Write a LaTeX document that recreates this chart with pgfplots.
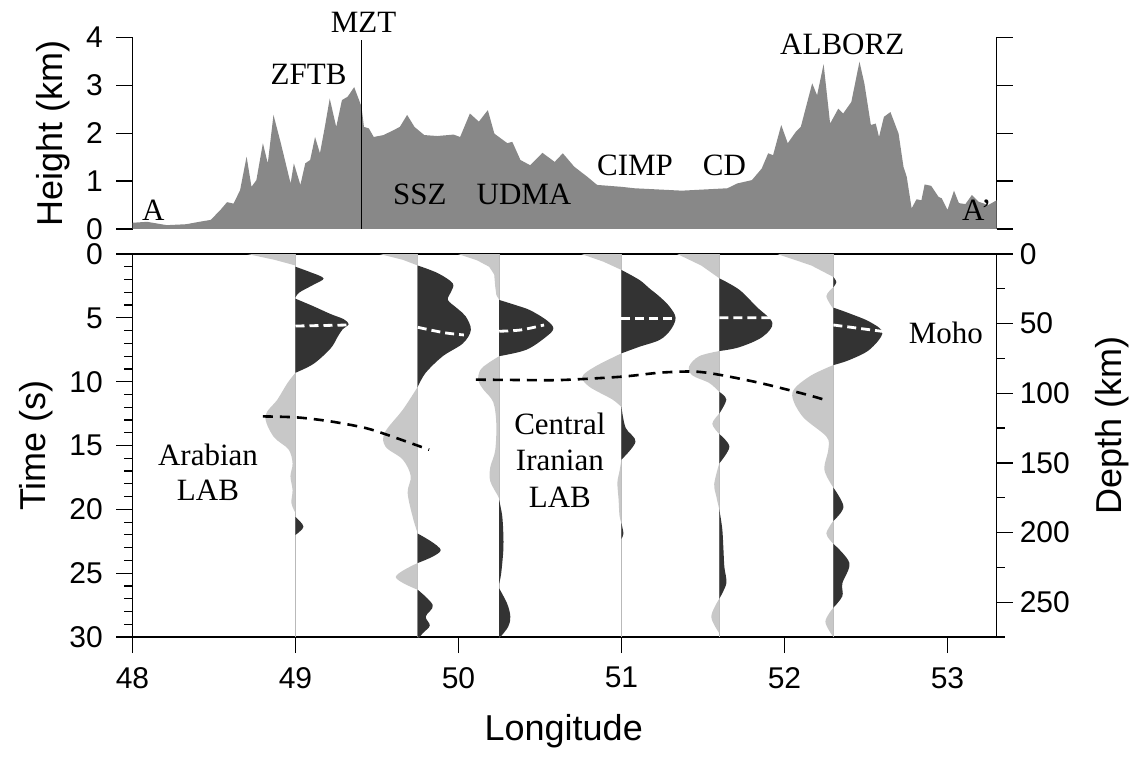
\documentclass[border=0pt]{standalone}
\usepackage{fontspec}
\setmainfont{Liberation Serif}
\newfontfamily\sansf{Liberation Sans}
\usepackage{pgfplots}
\pgfplotsset{compat=1.18}
\definecolor{topo}{RGB}{136,136,136}
\definecolor{posc}{RGB}{51,51,51}
\definecolor{negc}{RGB}{200,200,200}
\definecolor{basec}{RGB}{185,185,185}
\newcommand{\annfont}{\fontsize{15.5}{17.5}\selectfont}
\begin{document}
\begin{tikzpicture}
\path[use as bounding box] (-66.25pt,-59.5pt) rectangle (502.75pt,318.5pt);
\pgfplotsset{
  common/.style={scale only axis, width=432.1pt, xmin=48, xmax=53.302,
    tick align=outside, major tick length=8pt, minor tick length=4pt,
    every tick/.style={black, line width=0.6pt},
    axis line style={line width=0.6pt},
    tick label style={font=\sansf\fontsize{15}{18}\selectfont},
    label style={font=\sansf\fontsize{18}{21}\selectfont},
    /pgf/number format/assume math mode=true,
    clip mode=individual},
  pos/.style={fill=posc, draw=none, smooth, tension=0.55},
  neg/.style={fill=negc, draw=none, smooth, tension=0.55},
  wedge/.style={fill=negc, draw=none},
  baseline/.style={basec, line width=0.5pt},
  moho/.style={white, line width=1.4pt, dash pattern=on 4.5pt off 2.5pt},
  lab/.style={black, line width=1.3pt, dash pattern=on 5pt off 3.5pt, smooth},
}
% ================= bottom panel (time) =================
\begin{axis}[common, at={(0,0)}, anchor=south west, height=191.5pt,
  ymin=0, ymax=30, y dir=reverse, tick pos=left,
  xtick={48,...,53}, ytick={0,5,...,30}, minor ytick={1,...,29},
  xticklabel style={yshift=-3.5pt}, yticklabel style={xshift=-3.3pt},
  xlabel={Longitude}, ylabel={Time (s)},
  xlabel style={at={(axis description cs:0.499,-0.245)}, anchor=center},
  ylabel style={at={(axis description cs:-0.1111,0.5)}, anchor=center}]
% baselines
\addplot[baseline] coordinates {(49,0) (49,30)};
\addplot[baseline] coordinates {(49.75,0) (49.75,30)};
\addplot[baseline] coordinates {(50.25,0) (50.25,30)};
\addplot[baseline] coordinates {(51,0) (51,30)};
\addplot[baseline] coordinates {(51.6,0) (51.6,30)};
\addplot[baseline] coordinates {(52.3,0) (52.3,30)};
% ---- trace 1 (49.0)
\addplot[wedge] coordinates {(49,0) (48.705,0) (48.87,0.45) (49,0.9)} -- cycle;
\addplot[pos] coordinates {(49,1.0) (49.086,1.4) (49.172,1.9) (49.111,2.4) (49.025,3.0) (49,3.4)} -- cycle;
\addplot[pos] coordinates {(49,3.5) (49.111,4.1) (49.215,4.7) (49.295,5.1) (49.326,5.5) (49.289,5.9) (49.258,6.5) (49.215,7.4) (49.111,8.6) (49,9.3)} -- cycle;
\addplot[neg] coordinates {(49,9.3) (48.951,10.1) (48.889,11.4) (48.815,12.7) (48.865,14.3) (48.957,15.3) (48.982,16.4) (48.969,17.4) (48.982,18.5) (48.975,19.5) (49,20.3)} -- cycle;
\addplot[pos] coordinates {(49,20.6) (49.049,21.35) (49,22.0)} -- cycle;
% ---- trace 2 (49.75)
\addplot[wedge] coordinates {(49.75,0) (49.516,0) (49.658,0.45) (49.75,0.9)} -- cycle;
\addplot[pos] coordinates {(49.75,0.9) (49.873,1.5) (49.965,2.3) (49.953,3.0) (49.935,3.6) (49.996,4.3) (50.045,4.9) (50.076,5.95) (50.027,7.0) (49.904,8.0) (49.799,9.3) (49.75,10.4)} -- cycle;
\addplot[neg] coordinates {(49.75,10.4) (49.658,12.2) (49.547,14.0) (49.553,15.1) (49.658,16.1) (49.707,17.4) (49.688,18.7) (49.719,20.6) (49.75,21.9)} -- cycle;
\addplot[pos] coordinates {(49.75,21.9) (49.891,23.2) (49.75,24.2)} -- cycle;
\addplot[neg] coordinates {(49.75,24.2) (49.615,25.3) (49.75,26.3)} -- cycle;
\addplot[pos] coordinates {(49.75,26.3) (49.842,27.5) (49.799,28.4) (49.824,29.1) (49.781,29.7) (49.75,30.2)} -- cycle;
% ---- trace 3 (50.25)
\addplot[wedge] coordinates {(50.25,0) (49.998,0) (50.115,0.5) (50.188,1.0) (50.219,1.6) (50.225,2.5) (50.232,3.2) (50.25,3.6)} -- cycle;
\addplot[pos] coordinates {(50.25,3.6) (50.350,4.0) (50.439,4.4) (50.539,5.17) (50.582,5.82) (50.539,6.47) (50.416,7.5) (50.25,8.0)} -- cycle;
\addplot[neg] coordinates {(50.25,8.0) (50.176,8.6) (50.133,9.1) (50.121,9.9) (50.152,10.6) (50.213,11.6) (50.232,13.3) (50.225,15.4) (50.195,16.7) (50.195,17.8) (50.244,19.0) (50.25,19.3)} -- cycle;
\addplot[pos] coordinates {(50.25,19.3) (50.268,20.5) (50.275,21.9) (50.275,23.2) (50.262,25.0) (50.25,25.8)} -- cycle;
\addplot[pos] coordinates {(50.25,26.2) (50.299,27.4) (50.318,28.4) (50.305,29.2) (50.25,30.1)} -- cycle;
% ---- trace 4 (51.0)
\addplot[wedge] coordinates {(51,0) (50.754,0) (50.889,0.6) (51,1.25)} -- cycle;
\addplot[pos] coordinates {(51,1.25) (51.111,2.04) (51.172,2.7) (51.234,3.34) (51.295,4.12) (51.332,5.0) (51.301,5.95) (51.234,6.73) (51.111,7.26) (51,7.78)} -- cycle;
\addplot[neg] coordinates {(51,7.78) (50.84,8.8) (50.76,9.6) (50.803,10.4) (50.945,11.4) (51,12.0)} -- cycle;
\addplot[pos] coordinates {(51,12.0) (51.025,13.6) (51.086,14.7) (51,16.1)} -- cycle;
\addplot[neg] coordinates {(51,16.1) (50.988,17.0) (50.975,17.9) (50.982,19.2) (50.988,20.5) (51,21.1)} -- cycle;
\addplot[pos] coordinates {(51,21.1) (51.012,21.9) (51,22.3)} -- cycle;
% ---- trace 5 (51.6)
\addplot[wedge] coordinates {(51.6,0) (51.342,0) (51.489,0.9) (51.6,1.9)} -- cycle;
\addplot[pos] coordinates {(51.6,1.9) (51.723,2.8) (51.826,4.1) (51.926,5.4) (51.864,6.5) (51.723,7.3) (51.6,7.6)} -- cycle;
\addplot[neg] coordinates {(51.6,7.6) (51.477,8.0) (51.415,8.8) (51.434,9.5) (51.538,10.1) (51.6,10.8)} -- cycle;
\addplot[pos] coordinates {(51.6,10.8) (51.643,11.4) (51.6,12.5)} -- cycle;
\addplot[neg] coordinates {(51.6,12.5) (51.557,13.3) (51.6,14.1)} -- cycle;
\addplot[pos] coordinates {(51.6,14.1) (51.662,15.1) (51.6,16.4)} -- cycle;
\addplot[neg] coordinates {(51.6,16.4) (51.569,18.0) (51.582,19.0) (51.6,20.0)} -- cycle;
\addplot[pos] coordinates {(51.6,20.0) (51.618,21.5) (51.625,23.0) (51.631,24.5) (51.643,25.8) (51.6,27.0)} -- cycle;
\addplot[neg] coordinates {(51.6,27.0) (51.551,28.4) (51.6,29.7)} -- cycle;
% ---- trace 6 (52.3)
\addplot[wedge] coordinates {(52.3,0) (51.956,0) (52.165,0.9) (52.3,1.8)} -- cycle;
\addplot[pos] coordinates {(52.3,1.8) (52.318,2.2) (52.3,2.6)} -- cycle;
\addplot[neg] coordinates {(52.3,2.6) (52.257,3.3) (52.3,4.3)} -- cycle;
\addplot[pos] coordinates {(52.3,4.2) (52.398,4.65) (52.521,5.3) (52.601,6.16) (52.521,7.5) (52.398,8.3) (52.3,8.7)} -- cycle;
\addplot[neg] coordinates {(52.3,8.7) (52.152,9.6) (52.048,10.9) (52.109,12.7) (52.257,14.3) (52.269,15.3) (52.245,16.9) (52.3,18.3)} -- cycle;
\addplot[pos] coordinates {(52.3,18.3) (52.362,19.8) (52.3,20.9)} -- cycle;
\addplot[neg] coordinates {(52.3,20.9) (52.257,21.9) (52.3,22.7)} -- cycle;
\addplot[pos] coordinates {(52.3,22.7) (52.398,24.2) (52.355,25.8) (52.355,26.8) (52.3,27.7)} -- cycle;
\addplot[neg] coordinates {(52.3,27.7) (52.251,28.8) (52.3,30)} -- cycle;
% ---- Moho (white dashed)
\addplot[moho] coordinates {(49.0,5.64) (49.326,5.56)};
\addplot[moho, smooth] coordinates {(49.75,5.74) (49.91,6.16) (50.033,6.34)};
\addplot[moho, smooth] coordinates {(50.25,6.05) (50.382,5.95) (50.525,5.56)};
\addplot[moho] coordinates {(51.0,5.04) (51.33,5.04)};
\addplot[moho] coordinates {(51.6,4.99) (51.92,5.0)};
\addplot[moho] coordinates {(52.3,5.56) (52.613,6.08)};
% ---- LAB (black dashed)
\addplot[lab] coordinates {(48.80,12.72) (49.01,12.80) (49.21,13.1) (49.42,13.6) (49.56,14.15) (49.82,15.33)};
\addplot[lab] coordinates {(50.106,9.84) (50.40,9.87) (50.63,9.87) (51.0,9.61) (51.24,9.29) (51.45,9.21) (51.61,9.48) (51.86,10.13) (52.12,10.96) (52.25,11.43)};
% labels
\node[font=\annfont, align=center] at (axis cs:48.463,17.07) {Arabian\\LAB};
\node[font=\fontsize{15.5}{18.3}\selectfont, align=center] at (axis cs:50.622,16.13) {Central\\Iranian\\LAB};
\node[font=\annfont] at (axis cs:52.99,6.16) {Moho};
\end{axis}
% depth axis (right)
\begin{axis}[common, at={(0,0)}, anchor=south west, height=191.5pt,
  ymin=0, ymax=275, y dir=reverse, hide x axis,
  ytick pos=right, yticklabel pos=right,
  ytick={0,50,...,250}, minor ytick={25,75,...,275},
  ylabel={Depth (km)},
  ylabel style={at={(axis description cs:1.1336,0.5535)}, anchor=center}]
\addplot[draw=none] coordinates {(48,0) (53,275)};
\end{axis}
% ================= top panel (topography) =================
\begin{axis}[common, at={(0,204pt)}, anchor=south west, height=95.85pt,
  ymin=0, ymax=4, ytick={0,...,4}, hide x axis,
  ytick pos=both, yticklabel pos=left, yticklabel style={xshift=-3.3pt},
  ylabel={Height (km)},
  ylabel style={at={(axis description cs:-0.0922,0.5)}, anchor=center}]
\addplot[fill=topo, draw=none] table {
x h
48.00 0.13
48.09 0.15
48.21 0.08
48.33 0.10
48.41 0.15
48.48 0.19
48.54 0.40
48.58 0.56
48.62 0.53
48.66 0.81
48.70 1.51
48.73 0.88
48.76 1.02
48.80 1.79
48.83 1.37
48.865 2.38
48.91 1.79
48.97 0.95
48.99 1.37
49.03 0.92
49.06 1.37
49.09 1.44
49.12 1.92
49.15 1.58
49.18 2.13
49.21 2.72
49.25 2.13
49.285 2.69
49.32 2.76
49.36 2.96
49.39 2.69
49.405 2.55
49.42 2.13
49.45 2.10
49.48 1.92
49.54 1.96
49.60 2.06
49.64 2.13
49.685 2.38
49.73 2.13
49.79 1.96
49.87 1.94
49.97 1.97
50.01 1.92
50.07 2.41
50.125 2.24
50.18 2.48
50.22 1.99
50.30 1.79
50.33 1.82
50.38 1.44
50.44 1.33
50.515 1.59
50.59 1.40
50.64 1.58
50.71 1.30
50.79 1.09
50.85 0.92
51.00 0.88
51.08 0.85
51.37 0.80
51.65 0.85
51.71 0.95
51.80 1.02
51.86 1.26
51.90 1.58
51.93 1.54
51.98 2.17
52.02 1.79
52.07 2.03
52.10 2.13
52.17 3.04
52.20 2.79
52.24 3.44
52.28 2.20
52.33 2.51
52.36 2.41
52.41 2.65
52.46 3.49
52.49 3.04
52.53 2.17
52.56 2.20
52.58 1.92
52.61 2.34
52.65 2.44
52.70 1.99
52.73 1.30
52.75 1.09
52.78 0.43
52.81 0.62
52.84 0.60
52.86 0.93
52.90 0.90
52.945 0.67
52.965 0.64
53.00 0.40
53.04 0.80
53.07 0.54
53.11 0.52
53.15 0.71
53.19 0.57
53.25 0.50
53.302 0.60
} \closedcycle;
\addplot[black, line width=0.6pt] coordinates {(49.406,0) (49.406,3.94)};
\node[font=\annfont, anchor=base] at (axis cs:48.127,0.173) {A};
\node[font=\annfont, anchor=base] at (axis cs:49.08,3.01) {ZFTB};
\node[font=\annfont, anchor=base] at (axis cs:49.418,4.11) {MZT};
\node[font=\annfont, anchor=base] at (axis cs:49.763,0.52) {SSZ};
\node[font=\annfont, anchor=base] at (axis cs:50.402,0.52) {UDMA};
\node[font=\annfont, anchor=base] at (axis cs:51.083,1.125) {CIMP};
\node[font=\annfont, anchor=base] at (axis cs:51.632,1.125) {CD};
\node[font=\annfont, anchor=base] at (axis cs:52.354,3.646) {ALBORZ};
\node[font=\annfont, anchor=base] at (axis cs:53.18,0.1875) {A’};
\end{axis}
\end{tikzpicture}
\end{document}
